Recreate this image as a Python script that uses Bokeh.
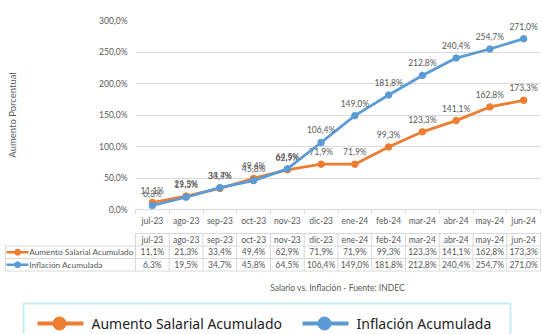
import numpy as np
from bokeh.plotting import figure
from bokeh.models import (Range1d, CustomJSTickFormatter, FixedTicker, ColumnDataSource)
from bokeh.core.properties import value
from bokeh.embed import file_html
from bokeh.resources import INLINE

# ---------------- data ----------------
months = ["jul-23", "ago-23", "sep-23", "oct-23", "nov-23", "dic-23",
          "ene-24", "feb-24", "mar-24", "abr-24", "may-24", "jun-24"]
salario = [11.1, 21.3, 33.4, 49.4, 62.9, 71.9, 71.9, 99.3, 123.3, 141.1, 162.8, 173.3]
inflacion = [6.3, 19.5, 34.7, 45.8, 64.5, 106.4, 149.0, 181.8, 212.8, 240.4, 254.7, 271.0]
series_names = ["Aumento Salarial Acumulado", "Inflación Acumulada"]
series_values = [salario, inflacion]
y_ticks = [0, 50, 100, 150, 200, 250, 300]
y_title = "Aumento Porcentual"
footer = "Salario vs. Inflación - Fuente: INDEC"

COLORS = ["#ED7D31", "#5B9BD5"]
TXT = "#595959"
GRID = "#D9D9D9"
FONT = "Lato"
W = 542
n = len(months)
idx = np.arange(n)
centers = (idx + 0.5).tolist()

def fmt(v):
    return f"{v:.1f}".replace(".", ",") + "%"

# ---------------- chart ----------------
p = figure(width=W, height=228, x_range=Range1d(0, n), y_range=Range1d(0, 300),
           output_backend="svg", toolbar_location=None,
           min_border_left=135, min_border_right=2, min_border_top=20, min_border_bottom=19)
p.outline_line_color = None
p.xgrid.grid_line_color = None
p.ygrid.grid_line_color = GRID
p.ygrid.ticker = FixedTicker(ticks=y_ticks)

p.yaxis.ticker = FixedTicker(ticks=y_ticks)
p.yaxis.formatter = CustomJSTickFormatter(code="return tick.toFixed(1).replace('.', ',') + '%';")
p.yaxis.axis_line_color = None
p.yaxis.major_tick_line_color = None
p.yaxis.minor_tick_line_color = None
p.yaxis.major_tick_out = 0
p.yaxis.major_label_standoff = 8
p.yaxis.major_label_text_font = FONT
p.yaxis.major_label_text_font_size = "8.5px"
p.yaxis.major_label_text_color = TXT
p.yaxis.axis_label = y_title
p.yaxis.axis_label_text_font = FONT
p.yaxis.axis_label_text_font_size = "9.5px"
p.yaxis.axis_label_text_font_style = "normal"
p.yaxis.axis_label_text_color = TXT
p.yaxis.axis_label_standoff = 78

# category axis: labels at category centres, tick marks at category boundaries
p.xaxis.ticker = FixedTicker(ticks=centers, minor_ticks=list(range(n + 1)))
p.xaxis.formatter = CustomJSTickFormatter(args=dict(months=months),
                                          code="return months[Math.floor(tick)];")
p.xaxis.axis_line_color = GRID
p.xaxis.major_tick_line_color = None
p.xaxis.major_tick_out = 0
p.xaxis.minor_tick_line_color = GRID
p.xaxis.minor_tick_in = 0
p.xaxis.minor_tick_out = 4
p.xaxis.major_label_standoff = 2
p.xaxis.major_label_text_font = FONT
p.xaxis.major_label_text_font_size = "8.5px"
p.xaxis.major_label_text_color = TXT

for name, vals, col in zip(series_names, series_values, COLORS):
    src = ColumnDataSource(dict(x=centers, y=vals, lab=[fmt(v) for v in vals]))
    p.line("x", "y", source=src, line_color=col, line_width=2.75)
    p.scatter("x", "y", source=src, size=6.5, fill_color=col, line_color=col)
    p.text("x", "y", text="lab", source=src, text_align="center", text_baseline="middle",
           y_offset=-12, text_font=value(FONT), text_font_size="8.5px", text_color=TXT)

# ---------------- data table ----------------
colw = (W - 135 - 2) / n
t = figure(width=W, height=47, x_range=Range1d(-135 / colw, n + 2 / colw),
           y_range=Range1d(47, 0), output_backend="svg", toolbar_location=None,
           min_border=0)
t.axis.visible = False
t.grid.visible = False
t.outline_line_color = None
left = -130 / colw
row_y = [5, 17.5, 30, 42.5]
t.segment(x0=[0, left, left, left], y0=row_y, x1=[n] * 4, y1=row_y, line_color=GRID, line_width=1)
bx = list(range(n + 1))
t.segment(x0=bx, y0=[row_y[0]] * len(bx), x1=bx, y1=[row_y[3]] * len(bx), line_color=GRID, line_width=1)
t.segment(x0=[left], y0=[row_y[1]], x1=[left], y1=[row_y[3]], line_color=GRID, line_width=1)
t.text(x=centers, y=[11.25] * n, text=months, text_align="center", text_baseline="middle",
       text_font=value(FONT), text_font_size="8.5px", text_color=TXT)
for r, (name, vals, col) in enumerate(zip(series_names, series_values, COLORS)):
    yy = (row_y[r + 1] + row_y[r + 2]) / 2
    t.text(x=centers, y=[yy] * n, text=[fmt(v) for v in vals], text_align="center",
           text_baseline="middle", text_font=value(FONT), text_font_size="8.5px", text_color=TXT)
    t.segment(x0=[left + 0.03], y0=[yy], x1=[left + 0.68], y1=[yy], line_color=col, line_width=2.5)
    t.scatter(x=[left + 0.36], y=[yy], size=6, fill_color=col, line_color=col)
    t.text(x=[left + 0.7], y=[yy], text=[name], text_align="left", text_baseline="middle",
           text_font=value(FONT), text_font_size="8.3px", text_color=TXT)

# ---------------- footer + legend ----------------
b = figure(width=W, height=59, x_range=Range1d(0, W), y_range=Range1d(59, 0),
           output_backend="svg", toolbar_location=None, min_border=0)
b.axis.visible = False
b.grid.visible = False
b.outline_line_color = None
b.text(x=[337], y=[12], text=[footer], text_align="center", text_baseline="middle",
       text_font=value(FONT), text_font_size="8.5px", text_color=TXT)
b.quad(left=[23], right=[510], top=[28], bottom=[80], fill_color="white",
       line_color="#CBECF0", line_width=2)
leg_x = [37, 302]
for name, col, lx in zip(series_names, COLORS, leg_x):
    b.segment(x0=[lx], y0=[48], x1=[lx + 46], y1=[48], line_color=col, line_width=4)
    b.scatter(x=[lx + 22], y=[48], size=13, fill_color=col, line_color=col)
    b.text(x=[lx + 54], y=[48], text=[name], text_align="left", text_baseline="middle",
           text_font=value("Noto Sans"), text_font_size="14px", text_color="#222222")

open("out.html", "w").write(file_html([p, t, b], INLINE))
